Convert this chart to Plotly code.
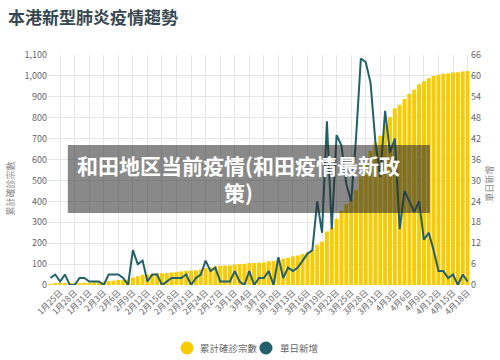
import plotly.graph_objects as go

# dates (categories) from 1月23日 to 4月18日
months_days = [(1, 31), (2, 29), (3, 31), (4, 18)]
dates = []
for m, last in months_days:
    start = 23 if m == 1 else 1
    for d in range(start, last + 1):
        dates.append(f"{m}月{d}日")

cumulative = [2, 5, 5, 8, 8, 8, 10, 10, 12, 13, 14, 15, 18, 21, 24, 25, 26,
              36, 42, 49, 50, 53, 56, 56, 57, 60, 62, 65, 68, 69, 70, 74,
              81, 84, 89, 92, 93, 94, 98, 100, 101, 105, 105, 107, 108, 114,
              115, 120, 126, 130, 137, 141, 148, 157, 167, 192, 208, 256,
              273, 317, 356, 386, 410, 453, 518, 582, 641, 682, 714, 765,
              802, 845, 862, 890, 915, 935, 960, 974, 989, 1000, 1004, 1010,
              1012, 1016, 1017, 1021, 1024]

daily = [2, 3, 1, 3, 0, 0, 2, 2, 1, 1, 1, 0, 3, 3, 3, 2, 0,
         10, 6, 7, 1, 3, 3, 0, 1, 2, 2, 2, 3, 0, 2, 3,
         7, 4, 5, 1, 1, 1, 4, 1, 0, 4, 0, 2, 2, 4,
         0, 8, 2, 5, 4, 5, 7, 9, 10, 24, 15, 47,
         16, 43, 40, 29, 24, 42, 65, 64, 58, 41, 31, 50,
         38, 42, 16, 27, 24, 21, 24, 13, 15, 10, 4, 4,
         2, 3, 0, 3, 1]

tick_labels = dates[2::3]
series_names = ["累計確診宗數", "單日新增"]

YELLOW = "#f7cb05"
TEAL = "#22606b"
FONT = "Noto Sans CJK TC"

fig = go.Figure()
fig.add_trace(go.Bar(x=dates, y=cumulative, marker_color=YELLOW,
                     marker_line_width=0, name=series_names[0]))
fig.add_trace(go.Scatter(x=dates, y=daily, yaxis="y2", mode="lines",
                         line=dict(color=TEAL, width=2), name=series_names[1]))

# hand-placed legend (round swatches) below the plot
legend_shapes = [
    dict(type="circle", xref="paper", yref="paper", x0=0.314, x1=0.345,
         y0=-0.302, y1=-0.246, fillcolor=YELLOW, line_width=0),
    dict(type="circle", xref="paper", yref="paper", x0=0.501, x1=0.532,
         y0=-0.302, y1=-0.246, fillcolor=TEAL, line_width=0),
]
legend_texts = [
    dict(xref="paper", yref="paper", x=0.355, y=-0.274, text=series_names[0],
         showarrow=False, xanchor="left", yanchor="middle",
         font=dict(size=9.5, color="#666")),
    dict(xref="paper", yref="paper", x=0.545, y=-0.274, text=series_names[1],
         showarrow=False, xanchor="left", yanchor="middle",
         font=dict(size=9.5, color="#666")),
]

fig.update_layout(
    width=500, height=360,
    showlegend=False,
    margin=dict(l=48, r=30, t=55, b=75, autoexpand=False),
    paper_bgcolor="white", plot_bgcolor="white",
    font=dict(family=FONT, color="#666", size=9),
    bargap=0.18,
    title=dict(text="<b>本港新型肺炎疫情趨勢</b>", x=0.016, xanchor="left",
               y=0.95, yanchor="middle",
               font=dict(size=17, color="#37474f", family=FONT)),
    xaxis=dict(type="category", categoryorder="array", categoryarray=dates,
               tickmode="array", tickvals=tick_labels, ticktext=tick_labels,
               tickangle=-45, tickfont=dict(size=8.5, color="#666"),
               showgrid=True, gridcolor="#e6e6e6", gridwidth=1,
               showline=False, zeroline=False, ticks="", automargin=False),
    yaxis=dict(range=[0, 1100], dtick=100, tickformat=",",
               showgrid=True, gridcolor="#e6e6e6", zeroline=False,
               tickfont=dict(size=9, color="#666"), automargin=False),
    yaxis2=dict(range=[0, 66], dtick=6, overlaying="y", side="right",
                showgrid=False, zeroline=False, automargin=False,
                tickfont=dict(size=9, color="#666")),
    shapes=[dict(type="rect", xref="paper", yref="paper",
                 x0=0.047, x1=0.905, y0=0.313, y1=0.609,
                 fillcolor="rgba(40,40,40,0.55)", line_width=0, layer="above")]
           + legend_shapes,
    annotations=[
        dict(xref="paper", yref="paper", x=0.452, y=0.461,
             text="和田地区当前疫情(和田疫情最新政<br>策)",
             showarrow=False, align="center",
             font=dict(size=21, color="white",
                       family="Noto Sans CJK SC", weight="bold")),
        dict(xref="paper", yref="paper", x=-0.09, y=0.42, textangle=-90,
             text="累計確診宗數", showarrow=False, xanchor="center",
             yanchor="middle", font=dict(size=9, color="#888")),
        dict(xref="paper", yref="paper", x=1.047, y=0.44, textangle=-90,
             text="單日新增", showarrow=False, xanchor="center",
             yanchor="middle", font=dict(size=9, color="#888")),
    ] + legend_texts,
)

fig.write_html("out.html", config={"displayModeBar": False},
               post_script="document.body.style.margin='0';")
